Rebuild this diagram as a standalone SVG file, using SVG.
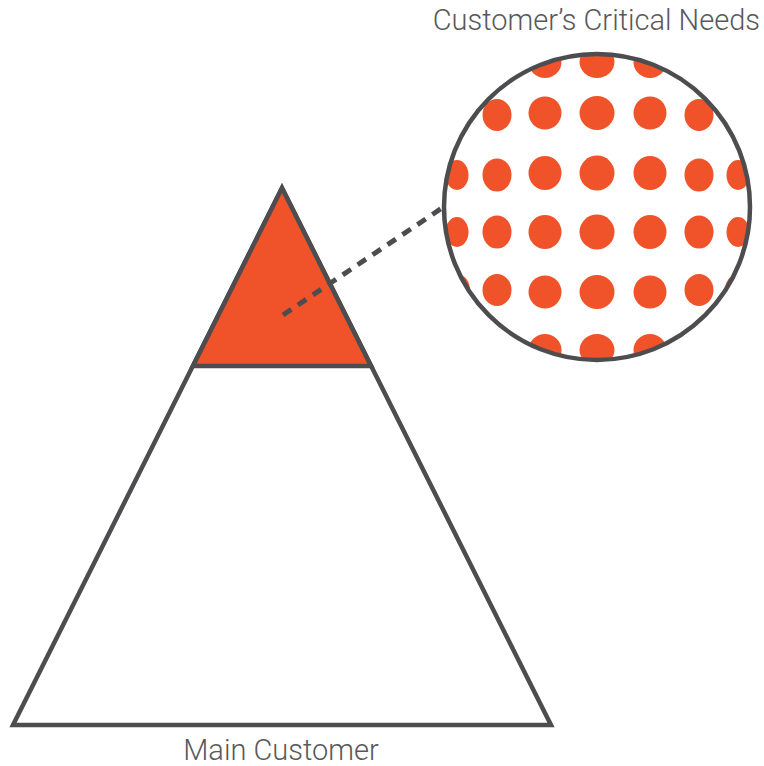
<svg xmlns="http://www.w3.org/2000/svg" width="764" height="766" viewBox="0 0 764 766">
<style>
.lbl{font-family:Roboto,"Liberation Sans",sans-serif;font-weight:300;font-size:29px;fill:#58595b}
.edge{stroke:#4d4d4f;stroke-width:4.5;stroke-linejoin:miter}
.dot{fill:#f0522a}
</style>
<defs>
<clipPath id="cc"><circle cx="597" cy="207" r="153"/></clipPath>
</defs>
<rect width="764" height="766" fill="#fff"/>
<g id="pyramid">
<polygon points="282,188 13,725 551,725" style="fill:#fff" class="edge"/>
<polygon points="282,188 193,366 371,366" style="fill:#f0522a" class="edge"/>
<text class="lbl" x="281" y="760" text-anchor="middle">Main Customer</text>
</g>
<g id="connectors">
<line x1="283" y1="315" x2="442" y2="208" stroke="#4d4d4f" stroke-width="5" stroke-dasharray="10 8"/>
</g>
<g id="needs">
<g clip-path="url(#cc)">
<g class="dot">
<ellipse cx="545" cy="62" rx="16.5" ry="16"/>
<ellipse cx="597" cy="62" rx="17.5" ry="16"/>
<ellipse cx="650" cy="62" rx="16.5" ry="16"/>
<ellipse cx="459" cy="115" rx="11" ry="15"/>
<ellipse cx="497" cy="115" rx="14.5" ry="16"/>
<ellipse cx="545" cy="113" rx="16.5" ry="16.5"/>
<ellipse cx="597" cy="113" rx="17.5" ry="17"/>
<ellipse cx="650" cy="113" rx="16.5" ry="16.5"/>
<ellipse cx="699" cy="115" rx="14.5" ry="16"/>
<ellipse cx="736" cy="115" rx="11" ry="15"/>
<ellipse cx="457" cy="175" rx="11.5" ry="15"/>
<ellipse cx="497" cy="175" rx="14.5" ry="16.5"/>
<ellipse cx="545" cy="173" rx="16.5" ry="17"/>
<ellipse cx="597" cy="173" rx="17.5" ry="17.5"/>
<ellipse cx="650" cy="173" rx="16.5" ry="17"/>
<ellipse cx="699" cy="175" rx="14.5" ry="16.5"/>
<ellipse cx="738" cy="175" rx="11.5" ry="15"/>
<ellipse cx="457" cy="232" rx="11.5" ry="15"/>
<ellipse cx="497" cy="232" rx="14.5" ry="16.5"/>
<ellipse cx="545" cy="232" rx="16.5" ry="17"/>
<ellipse cx="597" cy="232" rx="17.5" ry="17.5"/>
<ellipse cx="650" cy="232" rx="16.5" ry="17"/>
<ellipse cx="699" cy="232" rx="14.5" ry="16.5"/>
<ellipse cx="738" cy="232" rx="11.5" ry="15"/>
<ellipse cx="459" cy="290" rx="11" ry="15"/>
<ellipse cx="497" cy="290" rx="14.5" ry="16"/>
<ellipse cx="545" cy="292" rx="16.5" ry="16.5"/>
<ellipse cx="597" cy="292" rx="17.5" ry="17"/>
<ellipse cx="650" cy="292" rx="16.5" ry="16.5"/>
<ellipse cx="699" cy="290" rx="14.5" ry="16"/>
<ellipse cx="736" cy="290" rx="11" ry="15"/>
<ellipse cx="545" cy="350" rx="16.5" ry="16"/>
<ellipse cx="597" cy="350" rx="17.5" ry="16"/>
<ellipse cx="650" cy="350" rx="16.5" ry="16"/>
</g>
</g>
<circle cx="597" cy="207" r="153" fill="none" stroke="#4d4d4f" stroke-width="4.5"/>
<text class="lbl" x="760" y="30" text-anchor="end">Customer’s Critical Needs</text>
</g>
</svg>
